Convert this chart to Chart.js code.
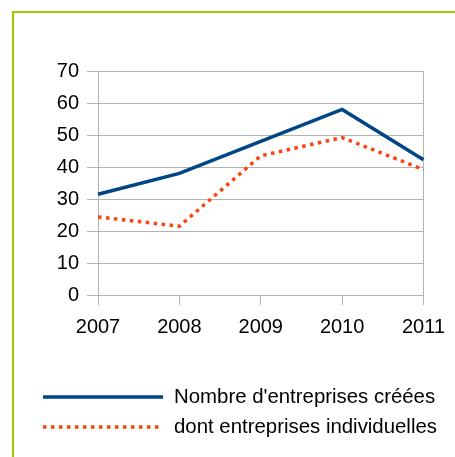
<!DOCTYPE html>
<html>
<head>
<meta charset="utf-8">
<script src="https://cdn.jsdelivr.net/npm/chart.js@4"></script>
<style>
  html, body { margin: 0; padding: 0; background: #fff; overflow: hidden; }
  #wrap { position: relative; width: 455px; height: 457px; }
  #frame {
    position: absolute; left: 12px; top: 11px;
    width: 500px; height: 500px;
    border: 2px solid #99cc00;
    pointer-events: none;
  }
</style>
</head>
<body>
<div id="wrap">
  <canvas id="chart"></canvas>
  <div id="frame"></div>
</div>
<script>
// Années et séries
const years = ['2007', '2008', '2009', '2010', '2011'];
const createdTotal = [31.5, 38, 48, 58, 42.3];
const individual = [24.4, 21.5, 43.5, 49.2, 39.2];
const seriesLabels = ["Nombre d'entreprises créées", 'dont entreprises individuelles'];
const yTicks = [0, 10, 20, 30, 40, 50, 60, 70];

const FONT = { family: '"Liberation Sans", Arial, sans-serif', size: 20 };
const GRID = '#b3b3b3';

// legend drawn by hand: short line sample + label, one row per dataset
const lineLegend = {
  id: 'lineLegend',
  afterDraw(chart) {
    const ctx = chart.ctx;
    ctx.save();
    ctx.font = '20.4px ' + FONT.family;
    ctx.textBaseline = 'middle';
    chart.data.datasets.forEach((ds, i) => {
      const y = 397 + i * 30;
      ctx.beginPath();
      ctx.strokeStyle = ds.borderColor;
      ctx.lineWidth = ds.borderWidth;
      ctx.lineCap = 'butt';
      ctx.setLineDash(ds.borderDash || []);
      ctx.moveTo(43, y);
      ctx.lineTo(163, y);
      ctx.stroke();
      ctx.setLineDash([]);
      ctx.fillStyle = '#000';
      ctx.fillText(ds.label, 174, y);
    });
    ctx.restore();
  }
};

new Chart(document.getElementById('chart'), {
  type: 'line',
  data: {
    labels: years,
    datasets: [
      {
        label: seriesLabels[0],
        data: createdTotal,
        borderColor: '#004586',
        borderWidth: 3.5,
        pointRadius: 0,
        tension: 0
      },
      {
        label: seriesLabels[1],
        data: individual,
        borderColor: '#ff420e',
        borderWidth: 3.5,
        borderDash: [3.5, 4.5],
        pointRadius: 0,
        tension: 0
      }
    ]
  },
  options: {
    responsive: true,
    maintainAspectRatio: false,
    animation: false,
    layout: { padding: { left: 0, top: 71, right: 29, bottom: 0 } },
    plugins: {
      legend: { display: false },
      tooltip: { enabled: false }
    },
    scales: {
      x: {
        offset: false,
        grid: {
          color: c => (c.index === 0 || c.index === years.length - 1) ? GRID : 'rgba(0,0,0,0)',
          tickColor: GRID,
          tickLength: 10
        },
        border: { color: GRID },
        ticks: { color: '#000', font: FONT, padding: 10, maxRotation: 0 },
        afterFit: s => { s.height = 162; }
      },
      y: {
        min: 0,
        max: 70,
        afterBuildTicks: s => { s.ticks = yTicks.map(v => ({ value: v })); },
        grid: { color: GRID, tickColor: GRID, tickLength: 11 },
        border: { color: GRID },
        ticks: { color: '#000', font: FONT, padding: 8 },
        afterFit: s => { s.width = 98; }
      }
    }
  },
  plugins: [lineLegend]
});
</script>
</body>
</html>
